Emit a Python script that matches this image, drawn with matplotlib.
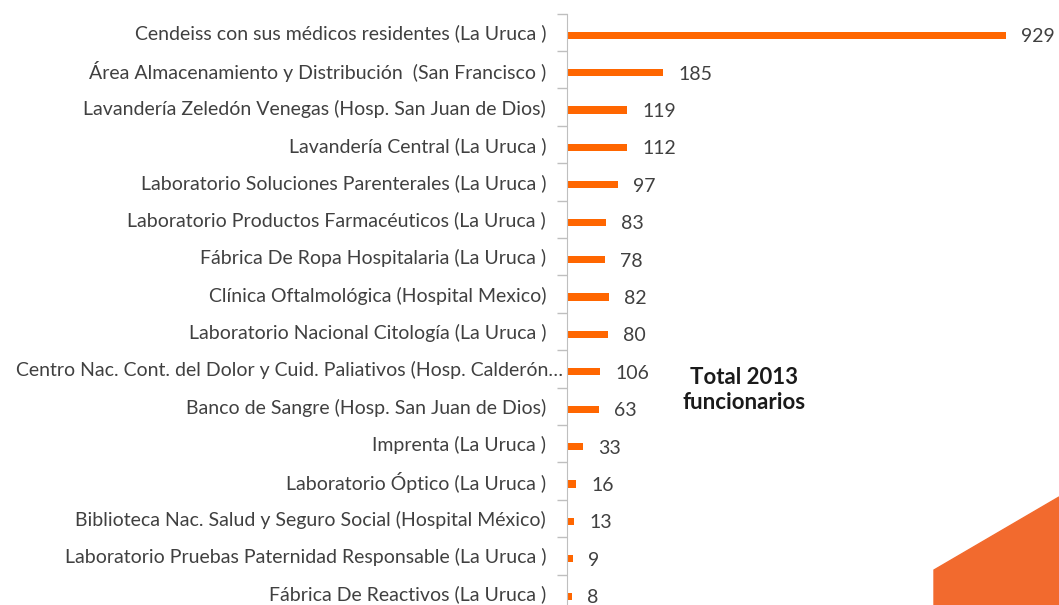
import matplotlib.pyplot as plt
import matplotlib.transforms as mtransforms
from matplotlib.patches import Polygon

# categories top to bottom
centros = [
    'Cendeiss con sus médicos residentes (La Uruca )',
    'Área Almacenamiento y Distribución  (San Francisco )',
    'Lavandería Zeledón Venegas (Hosp. San Juan de Dios)',
    'Lavandería Central (La Uruca )',
    'Laboratorio Soluciones Parenterales (La Uruca )',
    'Laboratorio Productos Farmacéuticos (La Uruca )',
    'Fábrica De Ropa Hospitalaria (La Uruca )',
    'Clínica Oftalmológica (Hospital Mexico)',
    'Laboratorio Nacional Citología (La Uruca )',
    'Centro Nac. Cont. del Dolor y Cuid. Paliativos (Hosp. Calderón…',
    'Banco de Sangre (Hosp. San Juan de Dios)',
    'Imprenta (La Uruca )',
    'Laboratorio Óptico (La Uruca )',
    'Biblioteca Nac. Salud y Seguro Social (Hospital México)',
    'Laboratorio Pruebas Paternidad Responsable (La Uruca )',
    'Fábrica De Reactivos (La Uruca )',
]
# numbers printed next to each bar
funcionarios = [929, 185, 119, 112, 97, 83, 78, 82, 80, 106, 63, 33, 16, 13, 9, 8]
# bar lengths as drawn in the picture (they don't all match the printed numbers)
largo_barras = [878, 192, 120, 120, 101, 78, 75, 83, 81, 65, 63, 32, 17, 14, 11, 9]

naranja = '#FF6600'
texto = '#404040'

W, H = 1059, 605
fig = plt.figure(figsize=(W / 100, H / 100), dpi=100)

# axes placed in pixel terms: spine at x=567, top at y=13.5, 16 rows of 37.4 px
x0, top, row = 567, 13.5, 37.4
bottom = top + row * len(centros)
ax = fig.add_axes([x0 / W, (H - bottom) / H, (W - x0) / W, (bottom - top) / H])

pos = list(range(len(centros)))
ypos = [p + 0.08 for p in pos]
ax.barh(ypos, largo_barras, height=0.19, color=naranja)

ax.set_xlim(0, (W - x0) * 2)
ax.set_ylim(len(centros) - 0.5, -0.5)

for y, L, v in zip(ypos, largo_barras, funcionarios):
    ax.text(L + 31, y + 0.04, str(v), va='center', ha='left',
            fontsize=14, color=texto, family='Lato')

ax.set_yticks(pos)
ax.set_yticklabels(centros, fontsize=14, color=texto, family='Lato')
ax.set_yticks([p - 0.5 for p in pos] + [len(centros) - 0.5], minor=True)
ax.tick_params(axis='y', which='major', length=0, pad=15)
ax.tick_params(axis='y', which='minor', length=7, color='#BFBFBF', width=1)
ax.tick_params(axis='x', which='both', bottom=False, labelbottom=False)

for s in ['top', 'right', 'bottom']:
    ax.spines[s].set_visible(False)
ax.spines['left'].set_color('#BFBFBF')

# long truncated label sits further right, as in the original
lbl = ax.get_yticklabels()[9]
lbl.set_transform(lbl.get_transform() + mtransforms.ScaledTranslation(17 / 100, 0, fig.dpi_scale_trans))

fig.text(744 / W, 1 - 390 / H, 'Total 2013\nfuncionarios', ha='center', va='center',
         fontsize=16, fontweight='bold', color='#1a1a1a', family='Lato', linespacing=1.2)

# orange corner decoration
fig.patches.append(Polygon([(934 / W, 1 - 570 / H), (1, 1 - 497 / H), (1, 0), (934 / W, 0)],
                           closed=True, transform=fig.transFigure, color='#F26A2E'))

fig.savefig('out.png', dpi=100)
